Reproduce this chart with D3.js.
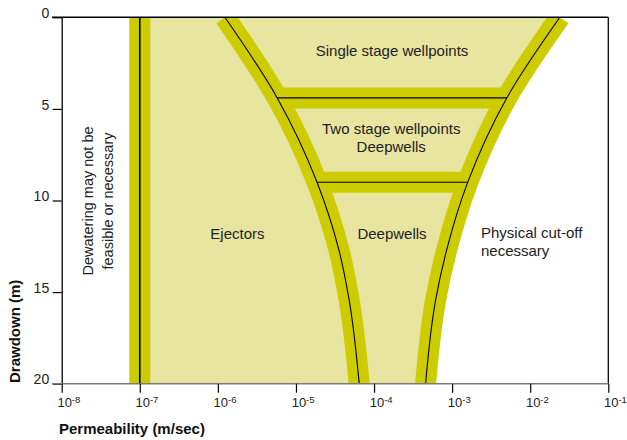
<!DOCTYPE html>
<html>
<head>
<meta charset="utf-8">
<script src="https://cdn.jsdelivr.net/npm/d3@7"></script>
<style>
  body { margin: 0; background: #fff; }
  svg { display: block; font-family: "Liberation Sans", Arial, Helvetica, sans-serif; }
</style>
</head>
<body>
<svg id="chart" width="627" height="440"></svg>
<script>
// permeability exponents on the x axis (10^n m/sec)
const xTickExps = [-8, -7, -6, -5, -4, -3, -2, -1];
const yTicks = [0, 5, 10, 15, 20];

// limit below which dewatering is not needed
const lowLimitExp = -7;

// left boundary of the wellpoint / deepwell funnel
const curveADepth = [0, 4.4, 9, 12.7, 15.4, 20];
const curveAExp = [-5.91, -5.24, -4.73, -4.45, -4.32, -4.19];

// right boundary (beyond: physical cut-off)
const curveBDepth = [0, 4.4, 9, 12.7, 15.4, 20];
const curveBExp = [-1.62, -2.30, -2.80, -3.07, -3.21, -3.34];

// horizontal dividers inside the funnel
const dividerDepths = [4.4, 9];

const labels = [
  { lines: ["Single stage wellpoints"], exp: -3.77, depth: 2.1 },
  { lines: ["Two stage wellpoints", "Deepwells"], exp: -3.78, depth: 6.37 },
  { lines: ["Ejectors"], exp: -5.75, depth: 12.1 },
  { lines: ["Deepwells"], exp: -3.77, depth: 12.1 }
];

const x = d3.scaleLog().domain([1e-8, 1e-1]).range([61.7, 608.3]);
const y = d3.scaleLinear().domain([0, 20]).range([17.3, 383.7]);
const X = (e) => x(Math.pow(10, e));

const DARK = "#cccc00", LIGHT = "#e8e5a1";

const svg = d3.select("#chart");

svg.append("defs").append("clipPath").attr("id", "plot")
  .append("rect")
  .attr("x", x.range()[0]).attr("y", y.range()[0])
  .attr("width", x.range()[1] - x.range()[0])
  .attr("height", y.range()[1] - y.range()[0]);

const plot = svg.append("g").attr("clip-path", "url(#plot)");

const curveA = curveADepth.map((d, i) => ({ d, e: curveAExp[i] }));
const curveB = curveBDepth.map((d, i) => ({ d, e: curveBExp[i] }));

// light fill from the 10^-7 line to the right boundary
const area = d3.area()
  .y((p) => y(p.d))
  .x0(() => X(lowLimitExp))
  .x1((p) => X(p.e))
  .curve(d3.curveMonotoneY);

plot.append("path").datum(curveB)
  .attr("d", area)
  .attr("fill", LIGHT);

const line = d3.line()
  .x((p) => X(p.e))
  .y((p) => y(p.d))
  .curve(d3.curveMonotoneY);

const straight = d3.line().x((p) => X(p.e)).y((p) => y(p.d));

const expAt = (depths, exps, d) => exps[depths.indexOf(d)];

const segs = [
  [{ d: 0, e: lowLimitExp }, { d: 20, e: lowLimitExp }],
  curveA,
  curveB
].concat(dividerDepths.map((d) => [
  { d, e: expAt(curveADepth, curveAExp, d) },
  { d, e: expAt(curveBDepth, curveBExp, d) }
]));

const pathOf = (s) => s.length === 2 ? straight(s) : line(s);

// thick bands
plot.selectAll(".band").data(segs).enter().append("path")
  .attr("class", "band")
  .attr("d", pathOf)
  .attr("fill", "none")
  .attr("stroke", DARK)
  .attr("stroke-width", 21);

// thin centre lines
plot.selectAll(".centre").data(segs).enter().append("path")
  .attr("class", "centre")
  .attr("d", pathOf)
  .attr("fill", "none")
  .attr("stroke", "#000")
  .attr("stroke-width", (s, i) => i === 0 ? 1.6 : 1.1);

// frame: top and right
svg.append("line")
  .attr("x1", 52).attr("x2", x.range()[1])
  .attr("y1", y(0)).attr("y2", y(0))
  .attr("stroke", "#000").attr("stroke-width", 1.6);
svg.append("line")
  .attr("x1", x.range()[1]).attr("x2", x.range()[1])
  .attr("y1", y(0)).attr("y2", y(20))
  .attr("stroke", "#000").attr("stroke-width", 1.3);

// y axis
const yAxis = svg.append("g")
  .attr("transform", `translate(${x.range()[0]},0)`)
  .call(d3.axisLeft(y).tickValues(yTicks).tickSize(9).tickSizeOuter(0));
yAxis.select(".domain").attr("stroke", "#000").attr("stroke-width", 1.3);
yAxis.selectAll(".tick line").attr("stroke", "#000").attr("stroke-width", 1.2);
yAxis.selectAll(".tick text")
  .attr("x", -12.5).attr("dy", "0.02em")
  .attr("font-size", 14).attr("font-family", null).attr("fill", "#222");

// x axis
const xAxis = svg.append("g")
  .attr("transform", `translate(0,${y.range()[1]})`)
  .call(d3.axisBottom(x).tickValues(xTickExps.map((e) => Math.pow(10, e)))
    .tickSize(9).tickSizeOuter(0).tickFormat(""));
xAxis.select(".domain").attr("stroke", "#7a7a7a").attr("stroke-width", 1.6)
  .attr("d", `M52,0H${x.range()[1]}`);
xAxis.selectAll(".tick line").attr("stroke", "#000").attr("stroke-width", 1.2);
xAxis.selectAll(".tick text").remove();
xAxis.selectAll(".tick").each(function (v, i) {
  const t = d3.select(this).append("text")
    .attr("x", -4.8).attr("y", 23.5)
    .attr("text-anchor", "start")
    .attr("fill", "#222").attr("font-size", 13);
  t.append("tspan").text("10");
  t.append("tspan").attr("dy", -4.5).attr("font-size", 9.5)
    .text("-" + String(-xTickExps[i]));
});

// axis titles
svg.append("text")
  .attr("x", 59).attr("y", 433.5)
  .attr("font-size", 15).attr("font-weight", "bold").attr("fill", "#111")
  .text("Permeability (m/sec)");
svg.append("text")
  .attr("transform", "translate(20,383) rotate(-90)")
  .attr("font-size", 15).attr("font-weight", "bold").attr("fill", "#111")
  .text("Drawdown (m)");

// region labels
labels.forEach((l) => {
  const t = svg.append("text")
    .attr("text-anchor", "middle")
    .attr("font-size", 15).attr("fill", "#222")
    .attr("x", X(l.exp)).attr("y", y(l.depth));
  l.lines.forEach((s, i) => {
    t.append("tspan").attr("x", X(l.exp)).attr("dy", i ? 18.5 : 0).text(s);
  });
});

// physical cut-off, left aligned
const cut = svg.append("text")
  .attr("font-size", 15).attr("fill", "#222")
  .attr("x", 481).attr("y", 237.7);
["Physical cut-off", "necessary"].forEach((s, i) => {
  cut.append("tspan").attr("x", 481).attr("dy", i ? 17.8 : 0).text(s);
});

// rotated note on the left
const note = svg.append("text")
  .attr("transform", "translate(93,201) rotate(-90)")
  .attr("text-anchor", "middle")
  .attr("font-size", 14.5).attr("fill", "#222");
["Dewatering may not be", "feasible or necessary"].forEach((s, i) => {
  note.append("tspan").attr("x", 0).attr("dy", i ? 19.5 : 0).text(s);
});
</script>
</body>
</html>
